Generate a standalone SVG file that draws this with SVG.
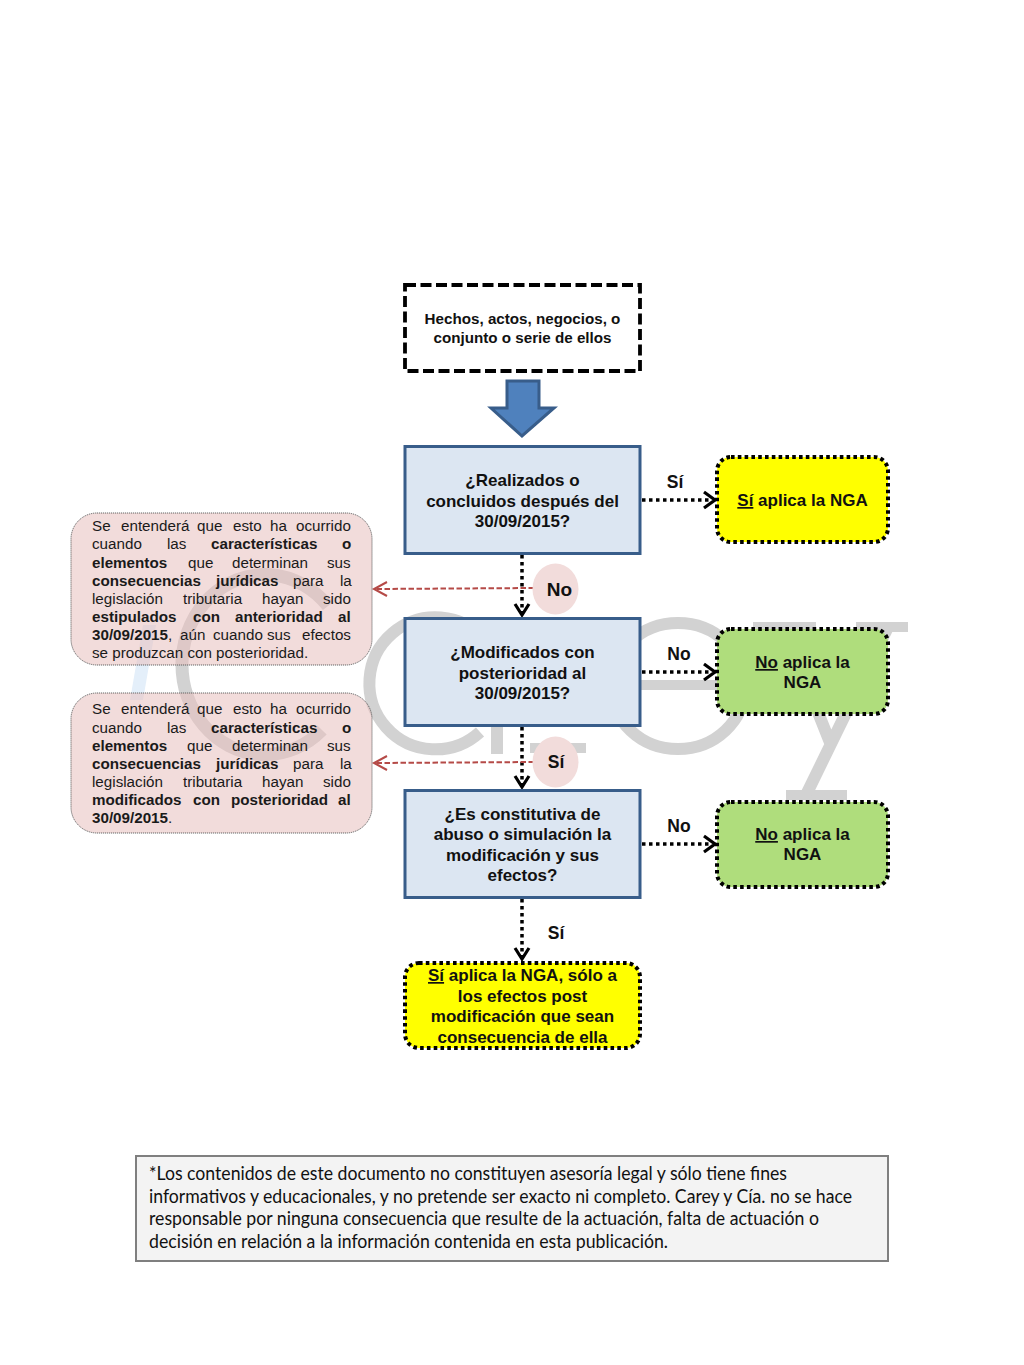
<svg xmlns="http://www.w3.org/2000/svg" width="1024" height="1365" viewBox="0 0 1024 1365">
<defs>
<style>
text{font-family:"Liberation Sans",Arial,sans-serif;fill:#111}
.c{text-anchor:middle;font-weight:bold}
.q{font-size:17px}
.h{font-size:15.2px}
.j{font-size:15.2px;fill:#1a1a1a}
.b{font-weight:bold}
.u{text-decoration:underline}
.lab{font-size:17.5px;font-weight:bold}
.blue{fill:#dce6f2;stroke:#385d8a;stroke-width:3}
.dotbox{stroke:#000;stroke-width:4;stroke-dasharray:3.6 3.2}
.pink{fill:#e7bfbd;fill-opacity:.55;stroke:#555;stroke-width:.9;stroke-dasharray:1.2 .8}
.wm{fill:none;stroke:#d2d2d2;stroke-width:12}
.line{fill:none;stroke:#000;stroke-width:3.5;stroke-dasharray:3.5 3.5}
.red{fill:none;stroke:#b54a47;stroke-width:2;stroke-dasharray:5.5 2.5}
.head{fill:none;stroke:#000;stroke-width:3.2}
.headr{fill:none;stroke:#b54a47;stroke-width:2}
.foot{font-family:Lato,"Liberation Sans",sans-serif;font-size:18.5px}
</style>
</defs>
<rect width="1024" height="1365" fill="#fff"/>
<g id="watermark">
<polygon points="143,625 156,625 143,700 130,700" fill="#e4effa"/>
<path class="wm" style="stroke-width:13" d="M328,606 A83,90 0 1 0 322,730"/>
<path class="wm" d="M486,641 A66,66 0 1 0 480,732"/>
<path class="wm" d="M497,672 V754"/>
<path class="wm" d="M530,748 H586" style="stroke-width:10"/>
<ellipse class="wm" cx="678" cy="686" rx="67" ry="63"/>
<path class="wm" style="stroke-width:10" d="M625,685 H742"/>
<path class="wm" style="stroke-width:10" d="M753,627 H816 M856,627 H908 M786,795 H847"/>
<path class="wm" d="M784,627 L831,745 M888,627 L807,793"/>
</g>
<g id="connectors">
<line class="line" x1="522" y1="555" x2="522" y2="612"/>
<line class="line" x1="522" y1="727" x2="522" y2="784"/>
<line class="line" x1="522" y1="899" x2="522" y2="956"/>
<line class="line" x1="642" y1="500" x2="711" y2="500"/>
<line class="line" x1="642" y1="672" x2="711" y2="672"/>
<line class="line" x1="642" y1="844" x2="711" y2="844"/>
<path class="head" d="M515,604 L522,615 L529,604 M515,776 L522,787 L529,776 M515,948 L522,959 L529,948"/>
<path class="head" d="M704,492 L715,500 L704,508 M704,664 L715,672 L704,680 M704,836 L715,844 L704,852"/>
<line class="red" x1="534" y1="588" x2="375" y2="589"/>
<line class="red" x1="534" y1="762" x2="375" y2="763"/>
<path class="headr" d="M387,582 L374,589 L387,596 M387,756 L374,763 L387,770"/>
</g>
<g id="n-hechos">
<rect x="405" y="285" width="235" height="86" fill="#fff" stroke="#000" stroke-width="3.8" stroke-dasharray="11 4.5"/>
<text class="c h" x="522.500" y="324">Hechos, actos, negocios, o</text>
<text class="c h" x="522.500" y="343">conjunto o serie de ellos</text>
</g>
<g id="n-flecha">
<polygon points="507,381 539,381 539,408 554,408 522,436 491,408 507,408" fill="#4f81bd" stroke="#385d8a" stroke-width="3"/>
</g>
<g id="n-q1">
<rect class="blue" x="405" y="446.500" width="235" height="107"/>
<text class="c q" x="522.500" y="486">¿Realizados o</text>
<text class="c q" x="522.500" y="506.500">concluidos después del</text>
<text class="c q" x="522.500" y="527">30/09/2015?</text>
</g>
<g id="n-q2">
<rect class="blue" x="405" y="618.500" width="235" height="107"/>
<text class="c q" x="522.500" y="658">¿Modificados con</text>
<text class="c q" x="522.500" y="678.500">posterioridad al</text>
<text class="c q" x="522.500" y="699">30/09/2015?</text>
</g>
<g id="n-q3">
<rect class="blue" x="405" y="790.500" width="235" height="107"/>
<text class="c q" x="522.500" y="819.500">¿Es constitutiva de</text>
<text class="c q" x="522.500" y="840">abuso o simulación la</text>
<text class="c q" x="522.500" y="860.500">modificación y sus</text>
<text class="c q" x="522.500" y="881">efectos?</text>
</g>
<g id="n-r1">
<rect class="dotbox" x="717" y="457" width="171" height="85" rx="14" fill="#ffff00"/>
<text class="c q" x="802.500" y="506"><tspan class="u">Sí</tspan> aplica la NGA</text>
</g>
<g id="n-r2">
<rect class="dotbox" x="717" y="629" width="171" height="85" rx="14" fill="#afdd7c"/>
<text class="c q" x="802.500" y="668"><tspan class="u">No</tspan> aplica la</text>
<text class="c q" x="802.500" y="688">NGA</text>
</g>
<g id="n-r3">
<rect class="dotbox" x="717" y="802" width="171" height="85" rx="14" fill="#afdd7c"/>
<text class="c q" x="802.500" y="840"><tspan class="u">No</tspan> aplica la</text>
<text class="c q" x="802.500" y="860">NGA</text>
</g>
<g id="n-r4">
<rect class="dotbox" x="405" y="963" width="235" height="85" rx="14" fill="#ffff00"/>
<text class="c q" x="522.500" y="981"><tspan class="u">Sí</tspan> aplica la NGA, sólo a</text>
<text class="c q" x="522.500" y="1001.500">los efectos post</text>
<text class="c q" x="522.500" y="1022">modificación que sean</text>
<text class="c q" x="522.500" y="1042.500">consecuencia de ella</text>
</g>
<g id="n-nota1">
<rect class="pink" x="71" y="513" width="301" height="152" rx="26"/>
<text class="j" y="531"><tspan x="92">Se</tspan> <tspan x="121">entenderá</tspan> <tspan x="197">que</tspan> <tspan x="233">esto</tspan> <tspan x="270">ha</tspan> <tspan x="296">ocurrido</tspan></text>
<text class="j" y="549"><tspan x="92">cuando</tspan> <tspan x="167">las</tspan> <tspan x="211" class="b">características</tspan> <tspan x="342" class="b">o</tspan></text>
<text class="j" y="568"><tspan x="92" class="b">elementos</tspan> <tspan x="188">que</tspan> <tspan x="232">determinan</tspan> <tspan x="327">sus</tspan></text>
<text class="j" y="586"><tspan x="92" class="b">consecuencias</tspan> <tspan x="216" class="b">jurídicas</tspan> <tspan x="293">para</tspan> <tspan x="340">la</tspan></text>
<text class="j" y="604"><tspan x="92">legislación</tspan> <tspan x="183">tributaria</tspan> <tspan x="262">hayan</tspan> <tspan x="323">sido</tspan></text>
<text class="j" y="622"><tspan x="92" class="b">estipulados</tspan> <tspan x="193" class="b">con</tspan> <tspan x="235" class="b">anterioridad</tspan> <tspan x="338" class="b">al</tspan></text>
<text class="j" y="640"><tspan x="92" class="b">30/09/2015</tspan><tspan>,</tspan> <tspan x="180">aún</tspan> <tspan x="213">cuando</tspan> <tspan x="267">sus</tspan> <tspan x="302">efectos</tspan></text>
<text class="j" y="658" x="92">se produzcan con posterioridad.</text>
</g>
<g id="n-nota2">
<rect class="pink" x="71" y="693" width="301" height="140" rx="26"/>
<text class="j" y="714"><tspan x="92">Se</tspan> <tspan x="121">entenderá</tspan> <tspan x="197">que</tspan> <tspan x="233">esto</tspan> <tspan x="270">ha</tspan> <tspan x="296">ocurrido</tspan></text>
<text class="j" y="733"><tspan x="92">cuando</tspan> <tspan x="167">las</tspan> <tspan x="211" class="b">características</tspan> <tspan x="342" class="b">o</tspan></text>
<text class="j" y="751"><tspan x="92" class="b">elementos</tspan> <tspan x="187">que</tspan> <tspan x="232">determinan</tspan> <tspan x="327">sus</tspan></text>
<text class="j" y="769"><tspan x="92" class="b">consecuencias</tspan> <tspan x="216" class="b">jurídicas</tspan> <tspan x="293">para</tspan> <tspan x="340">la</tspan></text>
<text class="j" y="787"><tspan x="92">legislación</tspan> <tspan x="183">tributaria</tspan> <tspan x="262">hayan</tspan> <tspan x="323">sido</tspan></text>
<text class="j" y="805"><tspan x="92" class="b">modificados</tspan> <tspan x="193" class="b">con</tspan> <tspan x="231" class="b">posterioridad</tspan> <tspan x="338" class="b">al</tspan></text>
<text class="j" y="823"><tspan x="92" class="b">30/09/2015</tspan><tspan>.</tspan></text>
</g>
<g id="n-no-oval">
<ellipse cx="555.500" cy="589" rx="23" ry="25.500" fill="#f2dcdb"/>
<text class="lab" x="559.500" y="595.500" text-anchor="middle" style="font-size:19px">No</text>
</g>
<g id="n-si-oval">
<ellipse cx="555.500" cy="762" rx="23" ry="25.500" fill="#f2dcdb"/>
<text class="lab" x="556" y="768" text-anchor="middle">Sí</text>
</g>
<g id="labels">
<text class="lab" x="675" y="488" text-anchor="middle">Sí</text>
<text class="lab" x="679" y="660" text-anchor="middle">No</text>
<text class="lab" x="679" y="832" text-anchor="middle">No</text>
<text class="lab" x="556" y="939" text-anchor="middle">Sí</text>
</g>
<g id="n-aviso">
<rect x="136" y="1156" width="752" height="105" fill="#f3f3f3" stroke="#7f7f7f" stroke-width="2"/>
<text class="foot" x="149" y="1180" textLength="638" lengthAdjust="spacingAndGlyphs">*Los contenidos de este documento no constituyen asesoría legal y sólo tiene fines</text>
<text class="foot" x="149" y="1203" textLength="703" lengthAdjust="spacingAndGlyphs">informativos y educacionales, y no pretende ser exacto ni completo. Carey y Cía. no se hace</text>
<text class="foot" x="149" y="1225" textLength="670" lengthAdjust="spacingAndGlyphs">responsable por ninguna consecuencia que resulte de la actuación, falta de actuación o</text>
<text class="foot" x="149" y="1248" textLength="519" lengthAdjust="spacingAndGlyphs">decisión en relación a la información contenida en esta publicación.</text>
</g>
</svg>
